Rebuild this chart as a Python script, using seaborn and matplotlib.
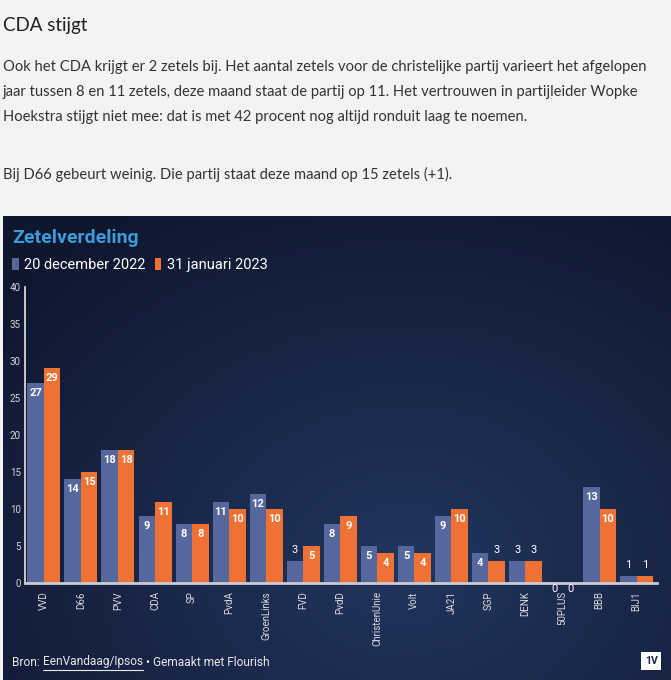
import numpy as np
import pandas as pd
import matplotlib.pyplot as plt
import seaborn as sns
from matplotlib.lines import Line2D
from matplotlib.colors import to_rgb

# Data
partijen = ['VVD', 'D66', 'PVV', 'CDA', 'SP', 'PvdA', 'GroenLinks', 'FVD', 'PvdD',
            'ChristenUnie', 'Volt', 'JA21', 'SGP', 'DENK', '50PLUS', 'BBB', 'BIJ1']
dec_2022 = [27, 14, 18, 9, 8, 11, 12, 3, 8, 5, 5, 9, 4, 3, 0, 13, 1]
jan_2023 = [29, 15, 18, 11, 8, 10, 10, 5, 9, 4, 4, 10, 3, 3, 0, 10, 1]
reeksen = ['20 december 2022', '31 januari 2023']
y_ticks = [0, 5, 10, 15, 20, 25, 30, 35, 40]

df = pd.DataFrame({
    'partij': partijen * 2,
    'zetels': dec_2022 + jan_2023,
    'datum': [reeksen[0]] * len(partijen) + [reeksen[1]] * len(partijen),
})

blauw = '#55679c'
oranje = '#ef7234'

W, H = 671, 680
def fx(x):
    return x / W
def fy(y):
    return 1 - y / H

sns.set_theme(style='white')
plt.rcParams['font.family'] = ['Roboto', 'DejaVu Sans']

fig = plt.figure(figsize=(W / 100, H / 100), dpi=100, facecolor='#f2f3f5')

# article text above the chart
art = ['Lato', 'DejaVu Sans']
fig.text(fx(3), fy(25), 'CDA stijgt', fontsize=13.5, color='#222222', va='center', family=art)
regels = [
    (67, 'Ook het CDA krijgt er 2 zetels bij. Het aantal zetels voor de christelijke partij varieert het afgelopen'),
    (92, 'jaar tussen 8 en 11 zetels, deze maand staat de partij op 11. Het vertrouwen in partijleider Wopke'),
    (117, 'Hoekstra stijgt niet mee: dat is met 42 procent nog altijd ronduit laag te noemen.'),
    (174, 'Bij D66 gebeurt weinig. Die partij staat deze maand op 15 zetels (+1).'),
]
for y, t in regels:
    fig.text(fx(3), fy(y), t, fontsize=10.6, color='#333333', va='center', family=art)

# dark panel with radial glow
bg = fig.add_axes([fx(3), 0, (W - 3) / W, (H - 216) / H])
bg.axis('off')
gy, gx = np.mgrid[0:1:300j, 0:1:300j]
d = np.sqrt(((gx - 0.6) / 0.8) ** 2 + ((gy - 0.75) / 0.9) ** 2)
t = np.clip(d, 0, 1)[..., None]
c_in = np.array(to_rgb('#22355f'))
c_out = np.array(to_rgb('#0f172f'))
img = c_in * (1 - t) + c_out * t
bg.imshow(img, aspect='auto', extent=[0, 1, 0, 1], origin='upper')
bg.set_xlim(0, 1)
bg.set_ylim(0, 1)

# main chart
ax = fig.add_axes([fx(25), fy(583), (657 - 25) / W, (583 - 287) / H])
ax.patch.set_alpha(0)
sns.barplot(data=df, x='partij', y='zetels', hue='datum', palette=[blauw, oranje],
            width=0.89, saturation=1, linewidth=0, edgecolor='none', ax=ax)
ax.set_ylim(0, 40)
ax.set_xlim(-0.51, 16.55)
ax.set_yticks(y_ticks)
ax.set_xlabel('')
ax.set_ylabel('')
for s in ['top', 'right']:
    ax.spines[s].set_visible(False)
ax.spines['left'].set_color('#e6e6e6')
ax.spines['left'].set_linewidth(1.2)
ax.spines['bottom'].set_color('#c9ccd3')
ax.spines['bottom'].set_linewidth(2)
ax.tick_params(axis='y', length=0, pad=3, labelsize=7, labelcolor='#d8d8d8')
ax.tick_params(axis='x', length=3, width=1.2, color='#d0d0d0', pad=3,
               labelsize=7, labelcolor='#dcdcdc', labelrotation=90)

for cont in ax.containers:
    for bar in cont:
        h = bar.get_height()
        xc = bar.get_x() + bar.get_width() / 2
        if h >= 4:
            off, w = -10, 'bold'
        elif h > 0:
            off, w = 11, 'normal'
        else:
            off, w = -6, 'normal'
        ax.annotate(f'{h:.0f}', (xc, h), xytext=(0, off), textcoords='offset pixels',
                    ha='center', va='center', fontsize=8, color='white', fontweight=w)

# title and legend
fig.text(fx(12), fy(238), 'Zetelverdeling', fontsize=14, fontweight='bold',
         color='#3e9ad8', va='center')
handles, labels = ax.get_legend_handles_labels()
for hd in handles:
    hd.set_edgecolor('none')
    hd.set_linewidth(0)
ax.legend(handles, labels, loc='center left', bbox_to_anchor=(fx(12), fy(265)),
          bbox_transform=fig.transFigure, ncol=2, frameon=False, fontsize=10.5,
          labelcolor='white', handlelength=0.45, handleheight=0.95, handletextpad=0.4,
          columnspacing=0.6, borderpad=0, borderaxespad=0)

# footer
fs = 8.6
t1 = fig.text(fx(12), fy(662), 'Bron: ', fontsize=fs, color='#e8e8e8', va='center')
fig.canvas.draw()
r = fig.canvas.get_renderer()
b1 = t1.get_window_extent(r)
t2 = fig.text(b1.x1 / W, fy(662), 'EenVandaag/Ipsos', fontsize=fs, color='#e8e8e8', va='center')
b2 = t2.get_window_extent(r)
fig.add_artist(Line2D([b2.x0 / W, b2.x1 / W], [(b2.y0 - 1) / H] * 2, color='#e8e8e8', lw=0.8))
fig.text(b2.x1 / W, fy(662), ' \u2022 Gemaakt met Flourish', fontsize=fs, color='#e8e8e8', va='center')
fig.text(fx(651), fy(661), '1V', fontsize=7.5, fontweight='bold', color='#1a2340',
         ha='center', va='center',
         bbox=dict(boxstyle='square,pad=0.35', fc='white', ec='none'))

fig.savefig('out.png', dpi=100, facecolor=fig.get_facecolor())
